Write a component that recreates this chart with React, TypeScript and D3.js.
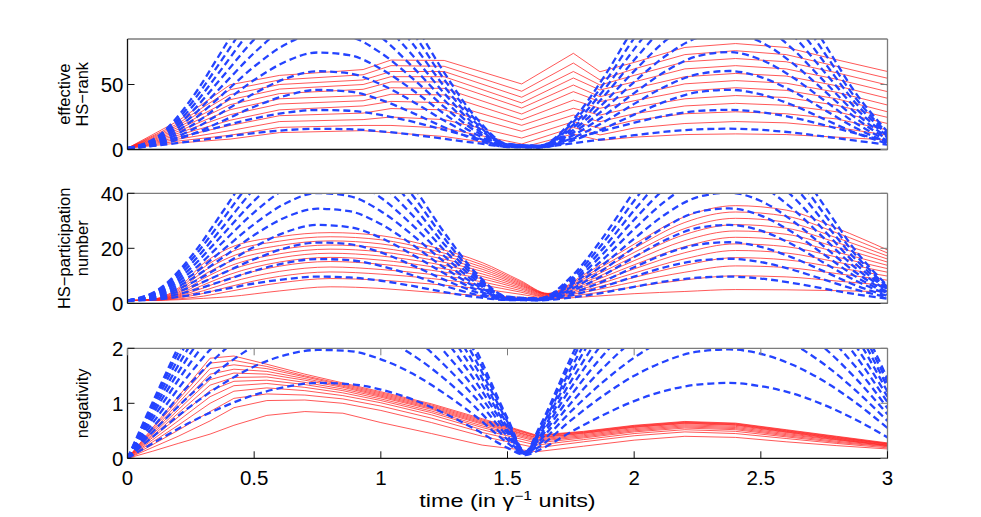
import * as d3 from "d3";

const W = 981;
const H = 517;
const LEFT = 127.5;
const RIGHT = 887.5;
const TICK = 7;
const FONT = "'Liberation Sans', Arial, Helvetica, sans-serif";
const RED = "#ff2424";
const BLUE = "#2443ff";

// time samples of the dashed (blue) curves
const tBlue = [0, 0.125, 0.25, 0.375, 0.5, 0.625, 0.75, 0.875, 1, 1.125, 1.25, 1.375, 1.5, 1.625, 1.75, 1.875, 2, 2.125, 2.25, 2.375, 2.5, 2.625, 2.75, 2.875, 3];
const tNegBlue = [0, 0.125, 0.25, 0.375, 0.5, 0.625, 0.75, 0.875, 1, 1.125, 1.25, 1.375, 1.5, 1.57, 1.625, 1.75, 1.875, 2, 2.125, 2.25, 2.375, 2.5, 2.625, 2.75, 2.875, 3];

// effective HS-rank
const rankBlue = [
	[1, 3.3, 6.3, 9.6, 12.6, 14.9, 15.9, 15.6, 14.0, 11.4, 8.2, 5.0, 2.2, 1.9, 4.6, 7.8, 11.0, 13.7, 15.5, 16.0, 15.1, 13.0, 10.0, 6.8, 3.7],
	[1, 5.5, 11.5, 17.9, 23.9, 28.3, 30.4, 29.8, 26.6, 21.4, 15.1, 8.8, 3.4, 2.8, 8.0, 14.3, 20.6, 26.0, 29.6, 30.5, 28.7, 24.6, 18.8, 12.4, 6.3],
	[1, 3.7, 11.4, 21.9, 32.9, 41.5, 45.8, 44.6, 38.2, 28.2, 17.1, 7.6, 1.9, 1.5, 6.5, 15.7, 26.8, 37.0, 44.1, 45.9, 42.4, 34.2, 23.4, 12.7, 4.5],
	[1, 4.6, 14.7, 28.7, 43.1, 54.6, 60.2, 58.6, 50.1, 37.0, 22.3, 9.7, 2.2, 1.7, 8.3, 20.5, 35.1, 48.7, 57.9, 60.4, 55.7, 44.9, 30.6, 16.5, 5.6],
	[1, 5.5, 18.0, 35.4, 53.4, 67.7, 74.6, 72.6, 62.1, 45.8, 27.5, 11.8, 2.5, 1.9, 10.1, 25.2, 43.4, 60.3, 71.8, 74.9, 69.1, 55.6, 37.9, 20.2, 6.8],
	[1, 6.4, 21.4, 42.3, 63.8, 81.0, 89.3, 86.9, 74.3, 54.7, 32.8, 14.0, 2.8, 2.1, 11.9, 30.0, 51.9, 72.1, 85.9, 89.6, 82.7, 66.5, 45.2, 24.1, 7.9],
	[1, 7.3, 24.8, 49.1, 74.3, 94.3, 104.0, 101.2, 86.5, 63.6, 38.1, 16.1, 3.1, 2.2, 13.7, 34.8, 60.3, 83.9, 100.0, 104.3, 96.2, 77.4, 52.5, 27.9, 9.1],
	[1, 8.2, 28.2, 56.0, 84.7, 107.5, 118.7, 115.5, 98.7, 72.5, 43.3, 18.3, 3.4, 2.4, 15.5, 39.7, 68.8, 95.7, 114.2, 119.0, 109.8, 88.3, 59.9, 31.7, 10.2],
	[1, 9.1, 31.6, 62.8, 95.2, 120.8, 133.3, 129.7, 110.9, 81.5, 48.6, 20.4, 3.7, 2.6, 17.4, 44.5, 77.2, 107.5, 128.3, 133.7, 123.4, 99.2, 67.2, 35.6, 11.4],
	[1, 10.0, 35.0, 69.7, 105.6, 134.1, 148.0, 144.0, 123.0, 90.4, 53.9, 22.6, 4.0, 2.8, 19.2, 49.3, 85.7, 119.3, 142.4, 148.5, 136.9, 110.0, 74.6, 39.4, 12.5],
	[1, 10.9, 38.4, 76.6, 116.1, 147.4, 162.7, 158.3, 135.2, 99.3, 59.2, 24.7, 4.3, 3.0, 21.0, 54.1, 94.1, 131.2, 156.5, 163.2, 150.5, 120.9, 81.9, 43.3, 13.7],
];
const tRankRed = [0, 0.2, 0.405, 0.6, 0.93, 1.04, 1.25, 1.556, 1.76, 1.865, 2.0, 2.2, 2.4, 2.6, 2.8, 3.0];
const rankRed = [
	[1, 22, 49.8, 57, 61.5, 68.8, 68.5, 50.4, 74, 59.8, 67, 78.5, 81.5, 78.5, 69, 60],
	[1, 20, 46, 53.5, 57.5, 64.5, 64, 44.8, 66.5, 53.5, 62, 73, 76, 73, 64, 54.8],
	[1, 18.5, 42.2, 50, 53.5, 60, 60, 40.2, 60, 49.6, 57, 67.5, 70, 67.5, 59, 49.6],
	[1, 17, 38.3, 46.5, 50, 56, 56, 35.8, 55, 45.8, 52, 62, 64.5, 62, 54, 44.5],
	[1, 15.5, 34.5, 43, 46.3, 52, 52, 31.9, 49.6, 40.6, 47, 56, 58.5, 56.5, 49, 39.4],
	[1, 14, 30.6, 39, 41.5, 47.5, 47, 27.3, 44.5, 36.8, 42, 50.5, 53, 51, 44, 34.2],
	[1, 12.5, 26.8, 35, 37.5, 42.5, 42, 22.9, 38, 31.7, 37.5, 45, 47.5, 45.5, 39, 29],
	[1, 11, 22.5, 30.5, 33.5, 37, 36, 18.6, 31.7, 26.5, 32.5, 39, 41.5, 40, 34, 24.7],
	[1, 9.5, 18.5, 26, 28, 31.5, 30.5, 14, 26.5, 21.4, 27.5, 33.5, 35.5, 34, 29, 20],
	[1, 8, 14.5, 21.5, 23, 25, 23, 8.8, 21.4, 16.3, 22.5, 27.5, 29, 27.5, 23.5, 15],
	[1, 6.5, 11, 17, 18.5, 18.5, 16.5, 4.2, 17, 11.2, 16.5, 20, 21.5, 20.5, 17, 11],
	[1, 5, 8, 13, 14.5, 13, 10, 1.5, 12, 7, 9.5, 11.5, 12, 11.5, 9.5, 7.3],
];

// HS-participation number
const partBlue = [
	[1, 1.5, 3.0, 5.0, 7.2, 8.8, 9.7, 9.4, 8.2, 6.3, 4.1, 2.3, 1.2, 1.1, 2.1, 3.8, 6.0, 8.0, 9.3, 9.7, 9.0, 7.4, 5.3, 3.3, 1.7],
	[1, 1.9, 4.5, 8.1, 11.8, 14.7, 16.1, 15.7, 13.6, 10.2, 6.4, 3.2, 1.3, 1.2, 2.9, 6.0, 9.7, 13.2, 15.5, 16.2, 15.0, 12.2, 8.6, 5.0, 2.2],
	[1, 2.3, 5.9, 10.9, 16.0, 20.1, 22.1, 21.5, 18.5, 13.8, 8.6, 4.1, 1.4, 1.3, 3.6, 7.9, 13.1, 18.0, 21.3, 22.2, 20.5, 16.6, 11.6, 6.5, 2.7],
	[1, 2.7, 7.3, 13.8, 20.5, 25.9, 28.5, 27.7, 23.8, 17.7, 10.9, 5.0, 1.6, 1.3, 4.4, 10.0, 16.8, 23.1, 27.4, 28.5, 26.4, 21.4, 14.7, 8.2, 3.2],
	[1, 3.0, 8.7, 16.6, 24.8, 31.3, 34.4, 33.5, 28.8, 21.3, 13.0, 5.9, 1.7, 1.4, 5.1, 12.0, 20.3, 27.9, 33.2, 34.5, 31.9, 25.8, 17.7, 9.7, 3.6],
	[1, 3.4, 10.0, 19.3, 28.8, 36.4, 40.1, 39.0, 33.5, 24.8, 15.1, 6.7, 1.8, 1.5, 5.8, 13.9, 23.5, 32.5, 38.6, 40.2, 37.2, 30.0, 20.6, 11.2, 4.1],
	[1, 3.8, 11.4, 22.1, 33.1, 41.8, 46.1, 44.9, 38.4, 28.4, 17.2, 7.6, 1.9, 1.5, 6.6, 15.8, 27.0, 37.3, 44.4, 46.2, 42.7, 34.4, 23.6, 12.8, 4.5],
	[1, 4.1, 12.8, 24.9, 37.3, 47.2, 52.0, 50.7, 43.4, 32.0, 19.4, 8.5, 2.0, 1.6, 7.3, 17.8, 30.4, 42.1, 50.1, 52.2, 48.2, 38.9, 26.5, 14.3, 5.0],
	[1, 4.5, 14.2, 27.6, 41.6, 52.6, 58.0, 56.5, 48.3, 35.7, 21.5, 9.4, 2.1, 1.7, 8.0, 19.7, 33.8, 46.9, 55.8, 58.2, 53.7, 43.3, 29.5, 15.9, 5.5],
	[1, 4.9, 15.6, 30.4, 45.8, 58.0, 64.0, 62.3, 53.3, 39.3, 23.7, 10.2, 2.3, 1.8, 8.8, 21.7, 37.3, 51.7, 61.6, 64.2, 59.2, 47.7, 32.5, 17.5, 5.9],
	[1, 5.2, 16.9, 33.2, 50.1, 63.4, 70.0, 68.1, 58.2, 42.9, 25.8, 11.1, 2.4, 1.8, 9.5, 23.7, 40.7, 56.5, 67.3, 70.2, 64.8, 52.1, 35.5, 19.0, 6.4],
];
const tPartRed = [0, 0.1, 0.2, 0.3, 0.4, 0.6, 0.8, 1.0, 1.2, 1.4, 1.55, 1.66, 1.8, 2.0, 2.2, 2.4, 2.6, 2.8, 3.0];
const partRed = [
	[1, 1.5, 5.5, 14.5, 20, 24.2, 25.7, 24.6, 20.6, 14.8, 8.3, 3.6, 10.3, 21.5, 31.5, 35.5, 33.9, 27.3, 19.4],
	[1, 1.45, 5.0, 13.0, 18.3, 22.6, 24.2, 23.1, 19.4, 14.0, 7.9, 3.5, 9.6, 20.0, 29.4, 33.2, 31.7, 25.6, 18.3],
	[1, 1.4, 4.5, 11.6, 16.6, 21.0, 22.7, 21.6, 18.2, 13.2, 7.5, 3.4, 8.9, 18.5, 27.2, 30.9, 29.5, 23.8, 17.2],
	[1, 1.35, 4.0, 10.3, 15.0, 19.5, 21.2, 20.1, 17.0, 12.4, 7.1, 3.3, 8.2, 17.0, 25.0, 28.6, 27.3, 22.1, 16.1],
	[1, 1.3, 3.6, 9.0, 13.4, 18.0, 19.7, 18.7, 15.8, 11.6, 6.7, 3.2, 7.5, 15.5, 22.8, 26.3, 25.1, 20.4, 15.0],
	[1, 1.25, 3.2, 7.8, 11.9, 16.5, 18.2, 17.2, 14.6, 10.7, 6.3, 3.0, 6.8, 14.0, 20.6, 24.0, 22.9, 18.6, 13.8],
	[1, 1.2, 2.9, 6.7, 10.4, 15.0, 16.7, 15.7, 13.3, 9.8, 5.8, 2.8, 6.1, 12.5, 18.4, 21.6, 20.6, 16.8, 12.6],
	[1, 1.15, 2.6, 5.6, 9.0, 13.5, 15.2, 14.2, 12.0, 8.9, 5.3, 2.6, 5.4, 11.0, 16.2, 19.2, 18.3, 15.0, 11.3],
	[1, 1.1, 2.3, 4.6, 7.5, 11.6, 13.2, 12.3, 10.5, 7.8, 4.7, 2.4, 4.7, 9.4, 13.8, 16.6, 15.8, 13.0, 9.9],
	[1, 1.08, 2.0, 3.6, 6.0, 9.8, 11.4, 10.6, 9.0, 6.7, 4.1, 2.2, 4.0, 7.8, 11.3, 13.6, 13.0, 10.8, 8.4],
	[1, 1.05, 1.6, 2.6, 4.3, 7.4, 9.0, 8.4, 7.0, 5.2, 3.3, 1.9, 3.2, 6.0, 8.5, 10.0, 9.6, 8.1, 6.5],
	[1, 1.02, 1.3, 1.8, 2.4, 4.5, 6.0, 5.4, 4.0, 2.8, 2.2, 1.6, 2.3, 3.5, 4.3, 5.0, 4.9, 4.6, 4.2],
];

// negativity
const negBlue = [
	[0, 0.34, 0.66, 0.93, 1.15, 1.30, 1.37, 1.35, 1.25, 1.07, 0.82, 0.52, 0.19, 0.06, 0.15, 0.48, 0.78, 1.04, 1.23, 1.34, 1.37, 1.31, 1.18, 0.97, 0.70, 0.38],
	[0, 0.49, 0.95, 1.35, 1.67, 1.88, 1.97, 1.95, 1.80, 1.54, 1.18, 0.76, 0.28, 0.07, 0.21, 0.69, 1.13, 1.50, 1.77, 1.94, 1.98, 1.90, 1.70, 1.40, 1.01, 0.55],
	[0, 0.60, 1.16, 1.65, 2.04, 2.30, 2.41, 2.38, 2.20, 1.88, 1.45, 0.92, 0.34, 0.08, 0.26, 0.85, 1.38, 1.83, 2.17, 2.37, 2.42, 2.32, 2.08, 1.71, 1.23, 0.68],
	[0, 0.70, 1.37, 1.94, 2.40, 2.70, 2.84, 2.80, 2.59, 2.22, 1.70, 1.09, 0.40, 0.08, 0.31, 1.00, 1.63, 2.16, 2.55, 2.79, 2.85, 2.73, 2.45, 2.01, 1.45, 0.80],
	[0, 0.80, 1.56, 2.22, 2.73, 3.08, 3.24, 3.20, 2.95, 2.53, 1.94, 1.24, 0.46, 0.09, 0.35, 1.14, 1.86, 2.46, 2.91, 3.18, 3.25, 3.12, 2.79, 2.29, 1.66, 0.91],
	[0, 0.90, 1.75, 2.49, 3.07, 3.46, 3.64, 3.59, 3.32, 2.84, 2.18, 1.39, 0.51, 0.09, 0.39, 1.28, 2.09, 2.76, 3.27, 3.57, 3.65, 3.50, 3.14, 2.58, 1.86, 1.02],
	[0, 0.99, 1.92, 2.73, 3.36, 3.80, 3.99, 3.94, 3.64, 3.11, 2.39, 1.53, 0.56, 0.10, 0.43, 1.40, 2.29, 3.03, 3.58, 3.91, 4.00, 3.84, 3.44, 2.82, 2.04, 1.12],
	[0, 1.07, 2.08, 2.97, 3.66, 4.13, 4.34, 4.28, 3.95, 3.38, 2.60, 1.66, 0.61, 0.10, 0.47, 1.53, 2.49, 3.29, 3.89, 4.25, 4.35, 4.17, 3.74, 3.07, 2.22, 1.21],
	[0, 1.15, 2.23, 3.17, 3.91, 4.41, 4.64, 4.58, 4.23, 3.62, 2.78, 1.78, 0.66, 0.11, 0.50, 1.63, 2.66, 3.52, 4.16, 4.55, 4.65, 4.46, 3.99, 3.28, 2.37, 1.30],
	[0, 1.22, 2.37, 3.38, 4.16, 4.70, 4.94, 4.87, 4.50, 3.85, 2.96, 1.89, 0.70, 0.11, 0.53, 1.74, 2.83, 3.75, 4.43, 4.84, 4.95, 4.75, 4.25, 3.49, 2.52, 1.38],
	[0, 1.28, 2.49, 3.55, 4.37, 4.93, 5.18, 5.12, 4.73, 4.05, 3.11, 1.99, 0.73, 0.12, 0.56, 1.83, 2.97, 3.94, 4.65, 5.09, 5.20, 4.99, 4.47, 3.67, 2.65, 1.45],
];
const tNegRed = [0, 0.1, 0.2, 0.326, 0.42, 0.55, 0.7, 0.85, 1.0, 1.2, 1.4, 1.615, 1.8, 2.0, 2.2, 2.4, 2.6, 2.8, 3.0];
const negRed = [
	[0, 0.56, 1.12, 1.82, 1.86, 1.71, 1.53, 1.37, 1.21, 0.99, 0.72, 0.42, 0.49, 0.60, 0.67, 0.64, 0.52, 0.40, 0.28],
	[0, 0.53, 1.06, 1.73, 1.78, 1.67, 1.50, 1.35, 1.19, 0.97, 0.70, 0.41, 0.48, 0.59, 0.66, 0.63, 0.51, 0.39, 0.27],
	[0, 0.50, 1.00, 1.63, 1.70, 1.63, 1.48, 1.33, 1.17, 0.95, 0.68, 0.40, 0.47, 0.58, 0.65, 0.62, 0.50, 0.38, 0.265],
	[0, 0.47, 0.94, 1.53, 1.62, 1.58, 1.45, 1.31, 1.15, 0.93, 0.66, 0.38, 0.46, 0.57, 0.64, 0.61, 0.49, 0.37, 0.26],
	[0, 0.44, 0.88, 1.43, 1.55, 1.53, 1.42, 1.29, 1.13, 0.91, 0.64, 0.37, 0.45, 0.56, 0.63, 0.60, 0.48, 0.36, 0.25],
	[0, 0.41, 0.82, 1.33, 1.47, 1.48, 1.38, 1.26, 1.11, 0.89, 0.62, 0.35, 0.43, 0.54, 0.61, 0.58, 0.47, 0.35, 0.24],
	[0, 0.38, 0.75, 1.23, 1.40, 1.42, 1.34, 1.23, 1.08, 0.86, 0.59, 0.33, 0.41, 0.52, 0.59, 0.56, 0.45, 0.34, 0.235],
	[0, 0.34, 0.68, 1.12, 1.32, 1.36, 1.29, 1.19, 1.05, 0.83, 0.56, 0.31, 0.39, 0.50, 0.57, 0.54, 0.43, 0.33, 0.23],
	[0, 0.30, 0.60, 1.00, 1.22, 1.28, 1.23, 1.14, 1.01, 0.79, 0.52, 0.28, 0.37, 0.48, 0.55, 0.52, 0.41, 0.31, 0.22],
	[0, 0.25, 0.51, 0.85, 1.09, 1.17, 1.15, 1.08, 0.95, 0.73, 0.47, 0.24, 0.34, 0.45, 0.52, 0.49, 0.39, 0.29, 0.21],
	[0, 0.20, 0.40, 0.68, 0.92, 1.05, 1.06, 1.00, 0.87, 0.65, 0.40, 0.19, 0.30, 0.41, 0.48, 0.45, 0.36, 0.27, 0.19],
	[0, 0.13, 0.27, 0.44, 0.60, 0.78, 0.85, 0.82, 0.65, 0.45, 0.24, 0.12, 0.22, 0.33, 0.40, 0.38, 0.30, 0.23, 0.17],
];

const xTicks = [0, 0.5, 1, 1.5, 2, 2.5, 3];

const x = d3.scaleLinear().domain([0, 3]).range([LEFT, RIGHT]);

type PanelDef = {
	id: string;
	top: number;
	bottom: number;
	yMax: number;
	yTicks: number[];
	label: string[];
	redT: number[];
	red: number[][];
	smoothRed: boolean;
	blueT: number[];
	blue: number[][];
	xAxis: boolean;
};

const panels: PanelDef[] = [
	{ id: "rank", top: 39, bottom: 149.5, yMax: 85, yTicks: [0, 50], label: ["effective", "HS\u2212rank"], redT: tRankRed, red: rankRed, smoothRed: false, blueT: tBlue, blue: rankBlue, xAxis: false },
	{ id: "part", top: 193.3, bottom: 303.3, yMax: 40, yTicks: [0, 20, 40], label: ["HS\u2212participation", "number"], redT: tPartRed, red: partRed, smoothRed: true, blueT: tBlue, blue: partBlue, xAxis: false },
	{ id: "neg", top: 348.3, bottom: 458.3, yMax: 2, yTicks: [0, 1, 2], label: ["negativity"], redT: tNegRed, red: negRed, smoothRed: false, blueT: tNegBlue, blue: negBlue, xAxis: true },
];

function Panel({ p }: { p: PanelDef }) {
	const y = d3.scaleLinear().domain([0, p.yMax]).range([p.bottom, p.top]);
	const redLine = d3
		.line<number>()
		.x((_, i) => x(p.redT[i]))
		.y((d) => y(d))
		.curve(p.smoothRed ? d3.curveMonotoneX : d3.curveLinear);
	const blueLine = d3
		.line<number>()
		.x((_, i) => x(p.blueT[i]))
		.y((d) => y(d))
		.curve(d3.curveMonotoneX);
	const clip = `clip-${p.id}`;
	const mid = (p.top + p.bottom) / 2;
	const labelX = p.label.length === 2 ? [70, 88] : [88];

	return (
		<g>
			<defs>
				<clipPath id={clip}>
					<rect x={LEFT} y={p.top} width={RIGHT - LEFT} height={p.bottom - p.top} />
				</clipPath>
			</defs>
			<g clipPath={`url(#${clip})`}>
				{p.red.map((s, i) => (
					<path key={`r${i}`} d={redLine(s) ?? ""} fill="none" stroke={RED} strokeWidth={0.9} strokeOpacity={0.85} />
				))}
				{p.blue.map((s, i) => (
					<path key={`b${i}`} d={blueLine(s) ?? ""} fill="none" stroke={BLUE} strokeWidth={2.3} strokeDasharray="7 4" />
				))}
			</g>
			{/* box */}
			<line x1={LEFT} x2={RIGHT} y1={p.top} y2={p.top} stroke="#7c7c7c" strokeWidth={1.3} />
			<line x1={RIGHT} x2={RIGHT} y1={p.top} y2={p.bottom} stroke="#7c7c7c" strokeWidth={1.3} />
			<line x1={LEFT} x2={RIGHT} y1={p.bottom} y2={p.bottom} stroke="#111" strokeWidth={1.3} />
			<line x1={LEFT} x2={LEFT} y1={p.top} y2={p.bottom} stroke="#111" strokeWidth={1.3} />
			{/* y ticks */}
			{p.yTicks.map((v) => (
				<g key={`yt${v}`}>
					<line x1={LEFT} x2={LEFT + TICK} y1={y(v)} y2={y(v)} stroke="#111" />
					<line x1={RIGHT - TICK} x2={RIGHT} y1={y(v)} y2={y(v)} stroke="#7c7c7c" />
					<text x={LEFT - 4} y={y(v) + 7.5} textAnchor="end" fontSize={20.5} fontFamily={FONT} fill="#000">
						{v}
					</text>
				</g>
			))}
			{/* x ticks */}
			{p.xAxis &&
				xTicks.map((v) => (
					<g key={`xt${v}`}>
						<line x1={x(v)} x2={x(v)} y1={p.bottom} y2={p.bottom - TICK} stroke="#111" />
						<line x1={x(v)} x2={x(v)} y1={p.top} y2={p.top + TICK} stroke="#7c7c7c" />
						<text x={x(v)} y={485} textAnchor="middle" fontSize={20.5} fontFamily={FONT} fill="#000">
							{v}
						</text>
					</g>
				))}
			{/* y label */}
			{p.label.map((t, i) => (
				<text
					key={`l${i}`}
					transform={`translate(${labelX[i]},${mid}) rotate(-90)`}
					textAnchor="middle"
					fontSize={16.5}
					fontFamily={FONT}
					fill="#000"
				>
					{t}
				</text>
			))}
		</g>
	);
}

export default function App() {
	return (
		<svg
			width={W}
			height={H}
			viewBox={`0 0 ${W} ${H}`}
			style={{ position: "absolute", left: 0, top: 0, background: "#fff" }}
		>
			<rect x={0} y={0} width={W} height={H} fill="#fff" />
			{panels.map((p) => (
				<Panel key={p.id} p={p} />
			))}
			<g transform="translate(507.5,507) scale(1.3,1)">
				<text x={0} y={0} textAnchor="middle" fontSize={18} fontFamily={FONT} fill="#000">
					time (in {"\u03b3"}
					<tspan dy={-7} fontSize={12}>
						{"\u22121"}
					</tspan>
					<tspan dy={7}> units)</tspan>
				</text>
			</g>
		</svg>
	);
}
